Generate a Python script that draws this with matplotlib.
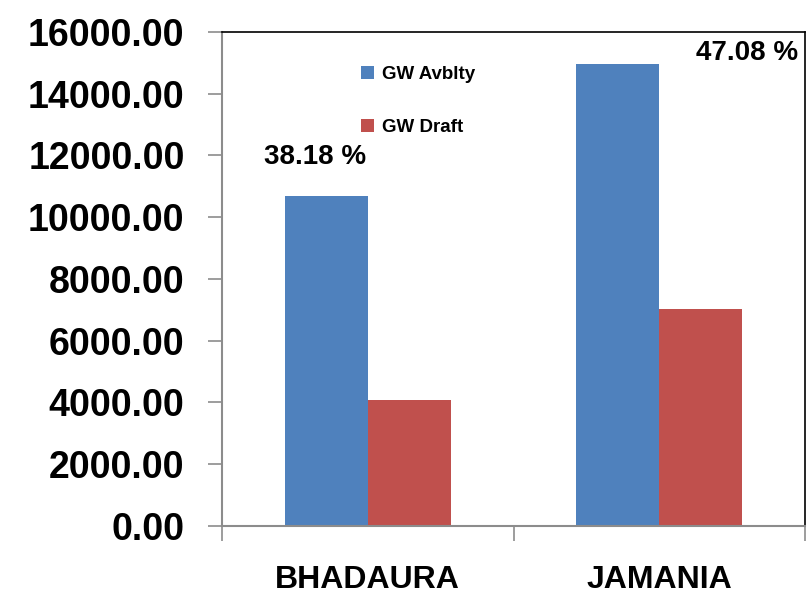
import matplotlib
matplotlib.use("Agg")
import matplotlib.pyplot as plt
import numpy as np

plt.rcParams['font.family'] = ['Liberation Sans Narrow', 'Liberation Sans', 'DejaVu Sans']

blocks = ["BHADAURA", "JAMANIA"]
gw_avblty = [10690, 14950]
gw_draft = [4080, 7040]
stage = ["38.18 %", "47.08 %"]

fig = plt.figure(figsize=(8.12, 5.99), dpi=100)
ax = fig.add_axes([0.2734, 0.1219, 0.7180, 0.8247])

x = np.arange(len(blocks))
w = 0.285
ax.bar(x - w / 2, gw_avblty, w, color="#4f81bd", label="GW Avblty")
ax.bar(x + w / 2, gw_draft, w, color="#c0504d", label="GW Draft")

ax.set_xlim(-0.5, 1.5)
ax.set_ylim(0, 16000)
ax.set_yticks(np.arange(0, 16001, 2000))
ax.set_yticklabels([f"{v:.2f}" for v in np.arange(0, 16001, 2000)],
                   fontsize=27, fontweight="bold")
ax.set_xticks(x)
ax.set_xticklabels(blocks, fontsize=23, fontweight="bold")
ax.set_xticks([-0.5, 0.5, 1.5], minor=True)
ax.tick_params(axis="x", which="major", length=0, pad=28)
ax.tick_params(axis="x", which="minor", length=11, color="#8c8c8c", width=1.2)
ax.tick_params(axis="y", length=10, color="#8c8c8c", width=1.2, pad=17)

for s in ["left", "bottom"]:
    ax.spines[s].set_color("#8c8c8c")
    ax.spines[s].set_linewidth(1.5)
for s in ["top", "right"]:
    ax.spines[s].set_color("black")
    ax.spines[s].set_linewidth(1.2)

# stage of development labels
ax.text(-0.18, 11950, stage[0], fontsize=20, fontweight="bold", ha="center", va="center")
ax.text(1.30, 15320, stage[1], fontsize=20, fontweight="bold", ha="center", va="center")

ax.legend(loc="upper left", bbox_to_anchor=(0.21, 0.965), frameon=False,
          prop={"size": 13.5, "weight": "bold"}, handlelength=0.7, handleheight=0.7,
          handletextpad=0.4, labelspacing=1.9)

fig.savefig("out.png", dpi=100)
